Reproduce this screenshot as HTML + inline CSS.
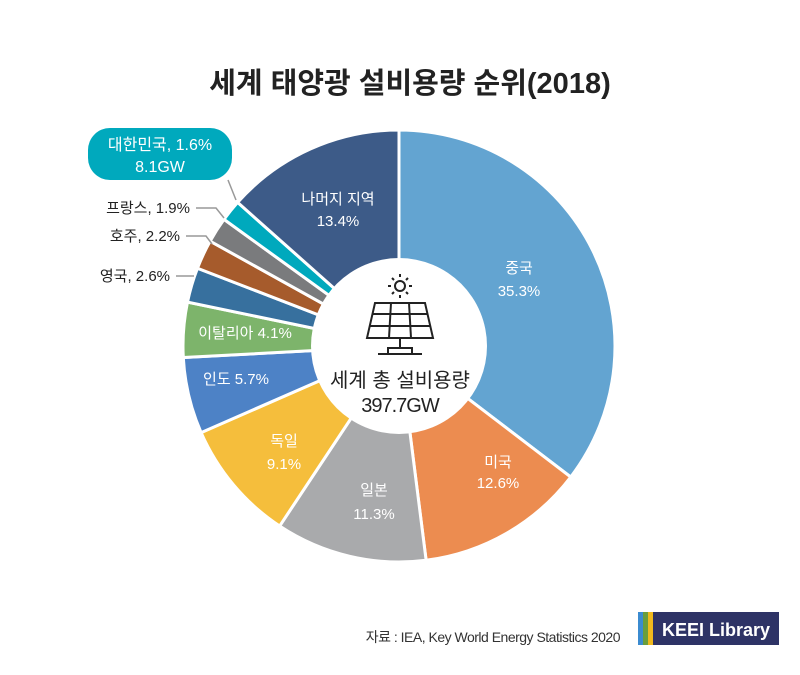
<!DOCTYPE html>
<html><head><meta charset="utf-8"><style>
html,body{margin:0;padding:0;background:#fff;}
body{width:800px;height:670px;overflow:hidden;font-family:"Liberation Sans","Noto Sans CJK KR",sans-serif;}
</style></head><body>
<svg id="s" width="800" height="670" viewBox="0 0 800 670" xmlns="http://www.w3.org/2000/svg" font-family="Liberation Sans, Noto Sans CJK KR, sans-serif">
<text x="410" y="93" text-anchor="middle" font-size="29" font-weight="bold" fill="#222">세계 태양광 설비용량 순위(2018)</text>
<g id="pie"></g>
<circle cx="399" cy="346" r="88" fill="#fff"/>
<g stroke="#222" stroke-width="2" fill="none">
<circle cx="400" cy="286" r="5"/>
<line x1="400" y1="274" x2="400" y2="277"/><line x1="400" y1="295" x2="400" y2="298"/>
<line x1="388" y1="286" x2="391" y2="286"/><line x1="409" y1="286" x2="412" y2="286"/>
<line x1="392" y1="278" x2="394" y2="280"/><line x1="406" y1="292" x2="408" y2="294"/>
<line x1="408" y1="278" x2="406" y2="280"/><line x1="392" y1="294" x2="394" y2="292"/>
<path d="M375 303 H425 L433 338 H367 Z"/>
<line x1="372" y1="314" x2="428" y2="314"/><line x1="370" y1="326" x2="430" y2="326"/>
<line x1="391" y1="303" x2="389" y2="338"/><line x1="409" y1="303" x2="411" y2="338"/>
<line x1="400" y1="338" x2="400" y2="348"/><path d="M388 354 V348 H412 V354"/><line x1="378" y1="354" x2="422" y2="354"/>
</g>
<text x="400" y="387" text-anchor="middle" font-size="20" fill="#222">세계 총 설비용량</text>
<text x="400" y="412" text-anchor="middle" font-size="20" fill="#222" letter-spacing="-1">397.7GW</text>
<g font-size="15" fill="#fff" text-anchor="middle">
<text x="519" y="273">중국</text><text x="519" y="296">35.3%</text>
<text x="498" y="467">미국</text><text x="498" y="488">12.6%</text>
<text x="374" y="495">일본</text><text x="374" y="519">11.3%</text>
<text x="284" y="446">독일</text><text x="284" y="469">9.1%</text>
<text x="236" y="384">인도 5.7%</text>
<text x="245" y="338">이탈리아 4.1%</text>
<text x="338" y="204">나머지 지역</text><text x="338" y="226">13.4%</text>
</g>
<g font-size="15" fill="#222" text-anchor="end">
<text x="190" y="213">프랑스, 1.9%</text>
<text x="180" y="241">호주, 2.2%</text>
<text x="170" y="281">영국, 2.6%</text>
</g>
<g stroke="#999" stroke-width="1.5" fill="none">
<polyline points="196,208 216,208 224,218"/>
<polyline points="186,236 206,236 212,244"/>
<polyline points="176,276 194,276"/>
<polyline points="228,180 236,200"/>
</g>
<rect x="88" y="128" width="144" height="52" rx="22" fill="#00a9bd"/>
<text x="160" y="150" text-anchor="middle" font-size="16" fill="#fff">대한민국, 1.6%</text>
<text x="160" y="172" text-anchor="middle" font-size="16" fill="#fff">8.1GW</text>
<text x="620" y="642" text-anchor="end" font-size="14" fill="#333" letter-spacing="-0.5">자료 :  IEA, Key World Energy Statistics 2020</text>
<rect x="638" y="612" width="5" height="33" fill="#3b8bd0"/>
<rect x="643" y="612" width="5" height="33" fill="#6a9e3c"/>
<rect x="648" y="612" width="5" height="33" fill="#f0b91d"/>
<rect x="653" y="612" width="126" height="33" fill="#2e3366"/>
<text x="716" y="636" text-anchor="middle" font-size="18" font-weight="bold" fill="#fff">KEEI Library</text>
</svg>
<script>
var d=[[35.3,"#63a4d1"],[12.6,"#ec8c50"],[11.3,"#a9aaac"],[9.1,"#f5be3c"],[5.7,"#4d82c6"],[4.1,"#7db46b"],[2.6,"#37709e"],[2.2,"#a65b2c"],[1.9,"#7a7b7d"],[1.6,"#00a9bd"],[13.4,"#3d5b88"]];
var tot=0;d.forEach(function(x){tot+=x[0];});
var cx=399,cy=346,R=216,a=0,g=document.getElementById("pie"),h="";
d.forEach(function(x){var b=a+x[0]/tot*2*Math.PI;
var x1=cx+R*Math.sin(a),y1=cy-R*Math.cos(a),x2=cx+R*Math.sin(b),y2=cy-R*Math.cos(b);
h+='<path d="M'+cx+' '+cy+' L'+x1+' '+y1+' A'+R+' '+R+' 0 '+((b-a)>Math.PI?1:0)+' 1 '+x2+' '+y2+' Z" fill="'+x[1]+'" stroke="#fff" stroke-width="3"/>';a=b;});
g.innerHTML=h;
</script>
</body></html>
